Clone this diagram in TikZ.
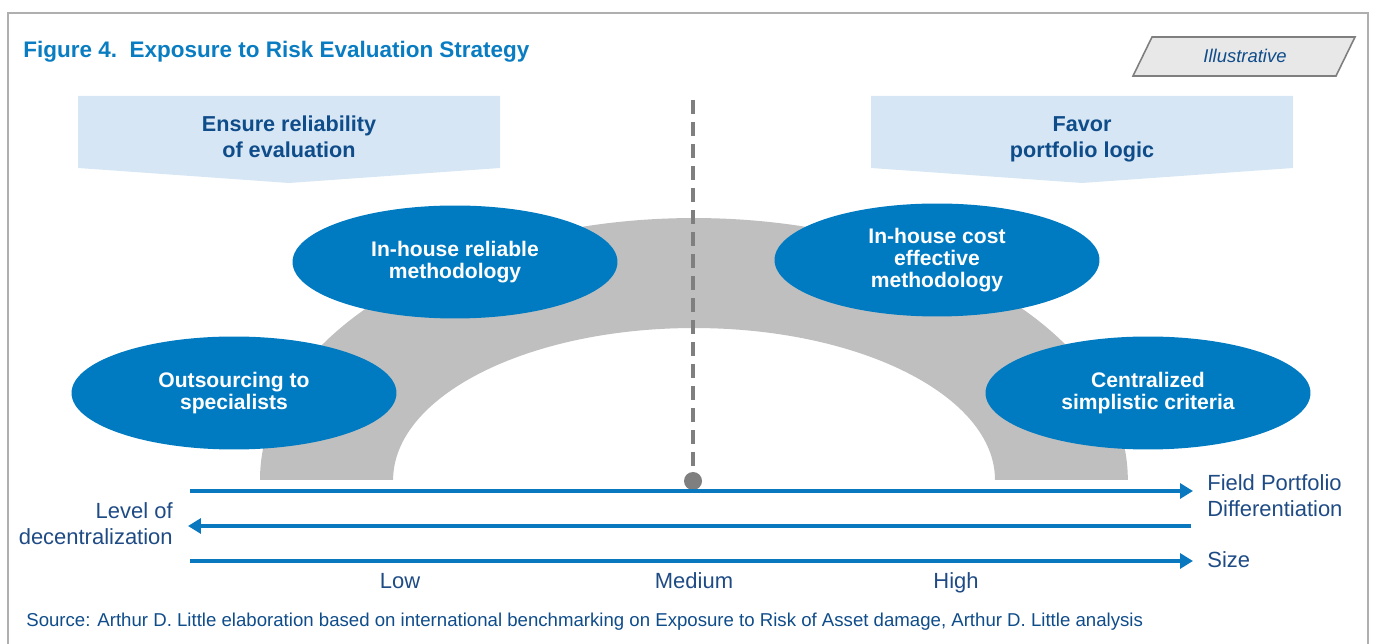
\documentclass[tikz,border=0pt]{standalone}
\usepackage{fontspec}
\setmainfont{Liberation Sans}
\usetikzlibrary{shapes.geometric, positioning, arrows.meta}
\definecolor{AdlTitle}{HTML}{0A7DC2}
\definecolor{AdlNavy}{HTML}{0F4C8A}
\definecolor{AdlPale}{HTML}{D6E6F4}
\definecolor{AdlOval}{HTML}{007BC2}
\definecolor{AdlAxis}{HTML}{0A78BF}
\definecolor{AdlText}{HTML}{1F4B85}
\definecolor{AdlArch}{HTML}{BFBFBF}
\definecolor{AdlGray}{HTML}{7F7F7F}
\definecolor{AdlFrame}{HTML}{AFAFAF}
\definecolor{AdlTag}{HTML}{E8E8E8}

\begin{document}
\begin{tikzpicture}[x=0.02cm, y=0.02cm,
            method/.style={ellipse, fill=AdlOval, text=white, minimum width=6.5cm, minimum height=2.26cm, inner sep=0pt, align=center, font=\fontsize{12}{12.5}\selectfont\bfseries},
            banner/.style={fill=AdlPale},
            bannertext/.style={text=AdlNavy, align=center, inner sep=0pt, font=\fontsize{12.3}{14.7}\selectfont\bfseries},
            axis/.style={line width=2.2pt, AdlAxis, -{Triangle[length=0.26cm, width=0.3cm]}},
            lbl/.style={text=AdlText, inner sep=0pt, font=\fontsize{12.5}{14.7}\selectfont}
        ]
            \useasboundingbox (0,0) rectangle (1373,-644);
            % Frame and title
            \draw[AdlFrame, line width=1.2pt] (8,-644) -- (8,-13) -- (1368,-13) -- (1368,-644);
            \node[anchor=base west, inner sep=0pt, text=AdlTitle, font=\fontsize{12.8}{15}\selectfont\bfseries] (title) at (23,-58) {Figure 4.\ \ Exposure to Risk Evaluation Strategy};
            \draw[fill=AdlTag, draw=AdlGray, line width=0.9pt] (1152,-37) -- (1355,-37) -- (1336,-76) -- (1133,-76) -- cycle;
            \node[text=AdlNavy, font=\fontsize{10.5}{12}\selectfont\itshape] (tag) at (1245,-56) {Illustrative};
            
            % Banners
            \fill[banner] (78,-96) -- (500,-96) -- (500,-168) -- (289,-183) -- (78,-168) -- cycle;
            \fill[banner] (871,-96) -- (1293,-96) -- (1293,-168) -- (1082,-183) -- (871,-168) -- cycle;
            \node[bannertext] (reliab) at (289,-137) {Ensure reliability\\of evaluation};
            \node[bannertext] (favor) at (1082,-139) {Favor\\portfolio logic};
            
            % Arch
            \fill[AdlArch] (260,-480) arc[start angle=180, end angle=0, x radius=8.68cm, y radius=5.24cm] -- (995,-480) arc[start angle=0, end angle=180, x radius=6.02cm, y radius=3.04cm] -- cycle;
            
            % Medium marker
            \node[circle, fill=AdlGray, minimum size=0.36cm, inner sep=0pt] (mid) at (693,-481) {};
            \coordinate (midtop) at (693,-100);
            \draw[AdlGray, line width=2pt, dash pattern=on 0.28cm off 0.16cm] (midtop) -- (mid.center);
            
            % Methods
            \node[method] (outsrc) at (234,-393) {Outsourcing to\\specialists};
            \node[method] (inrel) at (455,-262) {In-house reliable\\methodology};
            \node[method] (incost) at (937,-260) {In-house cost\\effective\\methodology};
            \node[method] (central) at (1148,-393) {Centralized\\simplistic criteria};
            
            % Axes
            \coordinate (fpdL) at (190,-491);
            \coordinate (fpdR) at (1193,-491);
            \coordinate (decL) at (188,-526);
            \coordinate (decR) at (1191,-526);
            \coordinate (sizeL) at (190,-561);
            \coordinate (sizeR) at (1193,-561);
            \draw[axis] (fpdL) -- (fpdR);
            \draw[axis] (decR) -- (decL);
            \draw[axis] (sizeL) -- (sizeR);
            
            % Labels
            \node[lbl, anchor=west, align=left] (fpd) at (1207,-496) {Field Portfolio\\Differentiation};
            \node[lbl, anchor=west] (size) at (1207,-560) {Size};
            \node[lbl, anchor=east, align=right] (dec) at (173,-524) {Level of\\decentralization};
            \node[lbl, anchor=base] (low) at (400,-589) {Low};
            \node[lbl, anchor=base] (medium) at (694,-589) {Medium};
            \node[lbl, anchor=base] (high) at (956,-589) {High};
            
            % Source
            \node[lbl, anchor=west, text=AdlNavy, font=\fontsize{10.6}{12}\selectfont] (source) at (26,-622) {Source: Arthur D. Little elaboration based on international benchmarking on Exposure to Risk of Asset damage, Arthur D. Little analysis};
        \end{tikzpicture}
\end{document}
